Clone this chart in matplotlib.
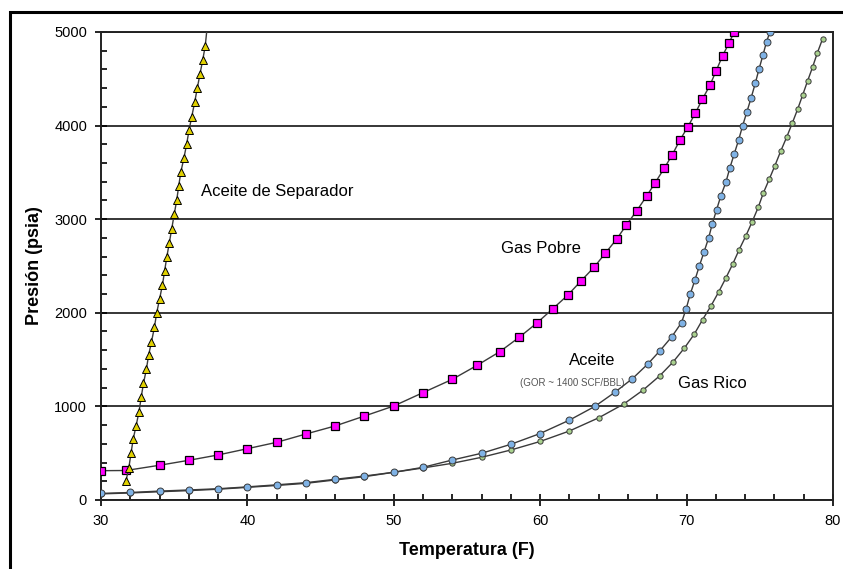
import matplotlib
matplotlib.use('Agg')
import matplotlib.pyplot as plt
from matplotlib.patches import Rectangle
from matplotlib.ticker import MultipleLocator

plt.rcParams['font.family'] = ['Liberation Sans', 'DejaVu Sans']

# Aceite de Separador (triangulos amarillos)
sep_t = [31.7, 31.9, 32.05, 32.2, 32.4, 32.6, 32.75, 32.9, 33.1, 33.25, 33.45, 33.65,
         33.8, 34.0, 34.2, 34.35, 34.5, 34.67, 34.83, 35.0, 35.17, 35.31, 35.45, 35.66,
         35.85, 36.02, 36.2, 36.4, 36.58, 36.76, 36.95, 37.12, 37.22]
sep_p = [200, 340, 500, 650, 795, 945, 1100, 1245, 1395, 1545, 1690, 1845,
         1995, 2145, 2300, 2450, 2600, 2750, 2895, 3050, 3200, 3355, 3500, 3650,
         3800, 3955, 4095, 4250, 4400, 4550, 4700, 4850, 5000]

# Gas Pobre (cuadros magenta)
pobre_t = [30, 31.7, 34, 36, 38, 40, 42, 44, 46, 48, 50, 52, 54, 55.7, 57.25, 58.57,
           59.76, 60.85, 61.88, 62.81, 63.7, 64.45, 65.22, 65.88, 66.59, 67.27, 67.86,
           68.48, 69.02, 69.55, 70.1, 70.61, 71.09, 71.6, 72.03, 72.46, 72.9, 73.26]
pobre_p = [313, 315, 371, 424, 481, 548, 616, 705, 791, 897, 1004, 1147, 1289, 1439,
           1585, 1738, 1888, 2041, 2187, 2343, 2489, 2636, 2785, 2935, 3088, 3245, 3390,
           3544, 3686, 3845, 3989, 4135, 4284, 4430, 4587, 4744, 4882, 5000]

# Aceite GOR ~ 1400 (circulos azules)
aceite_t = [30, 32, 34, 36, 38, 40, 42, 44, 46, 48, 50, 52, 54, 56, 58, 60, 62, 63.74,
            65.11, 66.31, 67.34, 68.2, 69.0, 69.66, 69.98, 70.25, 70.57, 70.87, 71.19,
            71.51, 71.76, 72.05, 72.35, 72.69, 72.96, 73.26, 73.56, 73.83, 74.13, 74.42,
            74.7, 74.95, 75.22, 75.47, 75.7]
aceite_p = [70, 80, 95, 107, 120, 140, 162, 185, 221, 256, 296, 349, 427, 499, 595, 710,
            853, 1000, 1151, 1297, 1450, 1597, 1745, 1895, 2044, 2197, 2347, 2497, 2646,
            2799, 2949, 3098, 3251, 3394, 3547, 3697, 3846, 3996, 4149, 4299, 4452, 4602,
            4751, 4897, 5000]

# Gas Rico (circulos verdes)
rico_t = [30, 32, 34, 36, 38, 40, 42, 44, 46, 48, 50, 52, 54, 56, 58, 60, 62, 64, 65.72,
          67.04, 68.16, 69.07, 69.86, 70.54, 71.1, 71.67, 72.21, 72.69, 73.17, 73.6,
          74.06, 74.49, 74.9, 75.24, 75.65, 76.04, 76.43, 76.84, 77.22, 77.59, 77.93,
          78.27, 78.61, 78.93, 79.3]
rico_p = [65, 75, 88, 100, 115, 135, 155, 178, 214, 249, 296, 342, 392, 456, 534, 625,
          737, 878, 1026, 1175, 1325, 1472, 1624, 1774, 1927, 2073, 2226, 2372, 2525,
          2675, 2824, 2974, 3127, 3276, 3426, 3572, 3725, 3875, 4024, 4174, 4324, 4476,
          4623, 4773, 4928]

fig = plt.figure(figsize=(8.43, 5.69), dpi=100)
ax = fig.add_axes([0.1198, 0.1213, 0.8682, 0.8225])

# marco exterior de la figura
fig.patches.append(Rectangle((10 / 843, -0.05), 1.1, 1 - 12 / 569 + 0.05,
                             transform=fig.transFigure, fill=False,
                             edgecolor='black', linewidth=2.2))

linea = '#3a3a3a'
ax.plot(rico_t, rico_p, color=linea, lw=1, marker='o', ms=3.8,
        mfc='#a9d18e', mec='#3a3a3a', mew=0.7, zorder=3)
ax.plot(aceite_t, aceite_p, color=linea, lw=1, marker='o', ms=5,
        mfc='#7fb2e5', mec='#3a3a3a', mew=0.7, zorder=4)
ax.plot(pobre_t, pobre_p, color=linea, lw=1, marker='s', ms=6.3,
        mfc='#ff00ff', mec='black', mew=0.9, zorder=5)
ax.plot(sep_t, sep_p, color=linea, lw=1, marker='^', ms=5.3,
        mfc='#e0d000', mec='black', mew=0.7, markevery=slice(0, len(sep_t) - 1),
        zorder=6)

ax.set_xlim(30, 80)
ax.set_ylim(0, 5000)
ax.xaxis.set_major_locator(MultipleLocator(10))
ax.xaxis.set_minor_locator(MultipleLocator(2))
ax.yaxis.set_major_locator(MultipleLocator(1000))
ax.yaxis.set_minor_locator(MultipleLocator(200))
ax.tick_params(which='major', direction='inout', length=8, width=1.2, labelsize=10.5, pad=6)
ax.tick_params(which='minor', direction='in', length=4, width=1.2)
ax.grid(axis='y', which='major', color='black', lw=1.1)
ax.set_axisbelow(True)
for lado in ['left', 'bottom', 'right', 'top']:
    ax.spines[lado].set_linewidth(1.4)
    ax.spines[lado].set_color('#222222')

ax.set_xlabel('Temperatura (F)', fontsize=13, fontweight='bold', labelpad=10)
ax.set_ylabel('Presión (psia)', fontsize=13, fontweight='bold', labelpad=8)

# etiquetas de las curvas
ax.text(36.8, 3300, 'Aceite de Separador', fontsize=12, va='center')
ax.text(57.3, 2690, 'Gas Pobre', fontsize=12, va='center')
ax.text(62.0, 1490, 'Aceite', fontsize=12, va='center')
ax.text(62.2, 1250, '(GOR ~ 1400 SCF/BBL)', fontsize=7, color='#555555', ha='center', va='center')
ax.text(69.4, 1240, 'Gas Rico', fontsize=12, va='center')

plt.savefig('out.png', dpi=100)
